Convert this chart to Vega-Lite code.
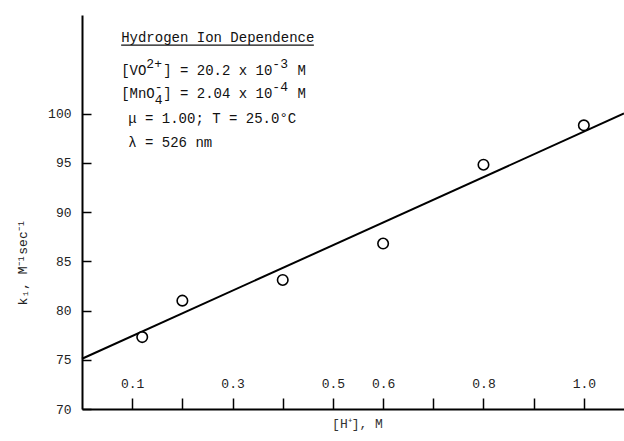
{
  "$schema": "https://vega.github.io/schema/vega-lite/v6.json",
  "width": 542,
  "height": 394,
  "autosize": {"type": "none"},
  "padding": {"left": 82, "top": 15, "right": 0, "bottom": 32},
  "background": "white",
  "config": {
    "view": {"stroke": null},
    "font": "Liberation Mono"
  },
  "datasets": {
    "points": [
      {"x": 0.12, "y": 77.3},
      {"x": 0.2, "y": 81.0},
      {"x": 0.4, "y": 83.1},
      {"x": 0.6, "y": 86.8},
      {"x": 0.8, "y": 94.8},
      {"x": 1.0, "y": 98.8}
    ],
    "fit": [
      {"x": 0.0, "y": 75.1},
      {"x": 1.08, "y": 100.0}
    ],
    "notes": [
      {"x": 0.078, "y": 107.26, "text": "Hydrogen Ion Dependence"},
      {"x": 0.078, "y": 103.9, "text": "[VO\u00a0\u00a0] = 20.2 x 10\u00a0\u00a0\u00a0M"},
      {"x": 0.078, "y": 101.57, "text": "[MnO\u00a0] = 2.04 x 10\u00a0\u00a0\u00a0M"},
      {"x": 0.092, "y": 99.04, "text": "μ = 1.00; T = 25.0°C"},
      {"x": 0.092, "y": 96.6, "text": "λ = 526 nm"}
    ],
    "scripts": [
      {"x": 0.1282, "y": 103.9, "text": "2+", "kind": "sup"},
      {"x": 0.3793, "y": 103.9, "text": "-3", "kind": "sup"},
      {"x": 0.1450, "y": 101.57, "text": "-", "kind": "sup"},
      {"x": 0.1450, "y": 101.57, "text": "4", "kind": "sub"},
      {"x": 0.3793, "y": 101.57, "text": "-4", "kind": "sup"}
    ],
    "underline": [
      {"x": 0.078, "x2": 0.462, "y": 106.95}
    ]
  },
  "encoding": {
    "x": {
      "field": "x",
      "type": "quantitative",
      "scale": {"domain": [0, 1.08], "nice": false, "zero": false},
      "axis": {
        "title": "[H⁺], M",
        "titleFont": "Liberation Mono",
        "titleFontSize": 13,
        "titleFontWeight": "normal",
        "titleColor": "#333",
        "titlePadding": 8,
        "titleX": 275,
        "values": [0.1, 0.2, 0.3, 0.4, 0.5, 0.6, 0.7, 0.8, 0.9, 1.0],
        "labelExpr": "indexof(['0.1','0.3','0.5','0.6','0.8','1.0'], format(datum.value, '.1f')) >= 0 ? format(datum.value, '.1f') : ''",
        "tickSize": -11,
        "tickWidth": 1.5,
        "tickColor": "black",
        "labelBaseline": "bottom",
        "labelPadding": -8,
        "labelFont": "Liberation Mono",
        "labelFontSize": 13,
        "labelColor": "#222",
        "labelFlush": false,
        "labelOverlap": false,
        "domainColor": "black",
        "domainWidth": 2,
        "grid": false
      }
    },
    "y": {
      "field": "y",
      "type": "quantitative",
      "scale": {"domain": [70, 110], "nice": false, "zero": false},
      "axis": {
        "title": "k₁, M⁻¹sec⁻¹",
        "titleFont": "Liberation Mono",
        "titleFontSize": 13,
        "titleFontWeight": "normal",
        "titleColor": "#222",
        "titleX": -60,
        "titleY": 247,
        "titleAlign": "center",
        "titleBaseline": "middle",
        "titleAngle": 270,
        "values": [70, 75, 80, 85, 90, 95, 100],
        "tickSize": -9,
        "tickWidth": 1.5,
        "tickColor": "black",
        "labelPadding": 20,
        "labelFont": "Liberation Mono",
        "labelFontSize": 13,
        "labelColor": "#222",
        "labelFlush": false,
        "labelOverlap": false,
        "domainColor": "black",
        "domainWidth": 2,
        "grid": false
      }
    }
  },
  "layer": [
    {
      "data": {"name": "fit"},
      "mark": {"type": "line", "color": "black", "strokeWidth": 2},
      "encoding": {}
    },
    {
      "data": {"name": "points"},
      "mark": {"type": "point", "shape": "circle", "size": 110, "filled": true, "fill": "white", "stroke": "black", "strokeWidth": 1.6, "opacity": 1},
      "encoding": {}
    },
    {
      "data": {"name": "notes"},
      "mark": {"type": "text", "align": "left", "baseline": "alphabetic", "font": "Liberation Mono", "fontSize": 14, "color": "#111"},
      "encoding": {"text": {"field": "text", "type": "nominal"}}
    },
    {
      "data": {"name": "scripts"},
      "transform": [{"filter": "datum.kind === 'sup'"}],
      "mark": {"type": "text", "align": "left", "baseline": "alphabetic", "font": "Liberation Mono", "fontSize": 13, "dy": -7, "color": "#111"},
      "encoding": {"text": {"field": "text", "type": "nominal"}}
    },
    {
      "data": {"name": "scripts"},
      "transform": [{"filter": "datum.kind === 'sub'"}],
      "mark": {"type": "text", "align": "left", "baseline": "alphabetic", "font": "Liberation Mono", "fontSize": 13, "dy": 6, "color": "#111"},
      "encoding": {"text": {"field": "text", "type": "nominal"}}
    },
    {
      "data": {"name": "underline"},
      "mark": {"type": "rule", "color": "#111", "strokeWidth": 1.2},
      "encoding": {"x2": {"field": "x2"}}
    }
  ]
}
